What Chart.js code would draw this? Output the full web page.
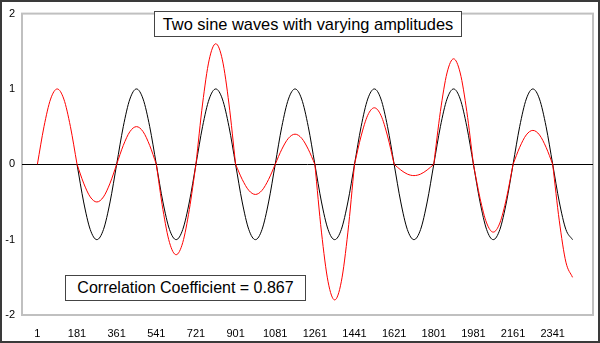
<!DOCTYPE html>
<html>
<head>
<meta charset="utf-8">
<script src="https://cdn.jsdelivr.net/npm/chart.js@4/dist/chart.umd.min.js"></script>
<style>
  html, body { margin: 0; padding: 0; background: #fff; }
  #wrap { position: relative; width: 600px; height: 343px; overflow: hidden; }
  #frame { position: absolute; left: 0; top: 0; width: 600px; height: 343px; box-sizing: border-box; border: 2px solid #3a3a3a; pointer-events: none; }
  .box { position: absolute; box-sizing: border-box; border: 1px solid #444; background: #fff; color: #000;
         font-family: "Liberation Sans", Arial, sans-serif; text-align: center; white-space: nowrap; }
  #title { left: 154px; top: 11px; width: 308px; height: 26px; font-size: 16.4px; line-height: 24px; }
  #corr { left: 65px; top: 275px; width: 241px; height: 26px; font-size: 16px; line-height: 24px; }
</style>
</head>
<body>
<div id="wrap">
  <canvas id="c" width="600" height="343"></canvas>
  <div class="box" id="title">Two sine waves with varying amplitudes</div>
  <div class="box" id="corr">Correlation Coefficient = 0.867</div>
  <div id="frame"></div>
</div>
<script>
// one sample every 30 categories
const STEP = 30;
const HALF = 180;
const RED_START = 1;
const BLACK_START = 181;

// constant amplitude wave (hidden under the red one for the first half cycle)
const blackWave = [
  0, -0.5, -0.866, -1, -0.866, -0.5,
  0, 0.5, 0.866, 1, 0.866, 0.5, 0, -0.5, -0.866, -1, -0.866, -0.5,
  0, 0.5, 0.866, 1, 0.866, 0.5, 0, -0.5, -0.866, -1, -0.866, -0.5,
  0, 0.5, 0.866, 1, 0.866, 0.5, 0, -0.5, -0.866, -1, -0.866, -0.5,
  0, 0.5, 0.866, 1, 0.866, 0.5, 0, -0.5, -0.866, -1, -0.866, -0.5,
  0, 0.5, 0.866, 1, 0.866, 0.5, 0, -0.5, -0.866, -1, -0.866, -0.5,
  0, 0.5, 0.866, 1, 0.866, 0.5, 0, -0.5, -0.866, -1
];

// varying amplitude wave, one row per half cycle
const redHalves = [
  [0, 0.5, 0.866, 1, 0.866, 0.5, 0],
  [0, -0.25, -0.433, -0.5, -0.433, -0.25, 0],
  [0, 0.25, 0.433, 0.5, 0.433, 0.25, 0],
  [0, -0.6, -1.039, -1.2, -1.039, -0.6, 0],
  [0, 0.8, 1.386, 1.6, 1.386, 0.8, 0],
  [0, -0.2, -0.346, -0.4, -0.346, -0.2, 0],
  [0, 0.2, 0.346, 0.4, 0.346, 0.2, 0],
  [0, -0.9, -1.559, -1.8, -1.559, -0.9, 0],
  [0, 0.375, 0.65, 0.75, 0.65, 0.375, 0],
  [0, -0.075, -0.13, -0.15, -0.13, -0.075, 0],
  [0, 0.7, 1.212, 1.4, 1.212, 0.7, 0],
  [0, -0.45, -0.779, -0.9, -0.779, -0.45, 0],
  [0, 0.225, 0.39, 0.45, 0.39, 0.225, 0],
  [0, -0.75, -1.299, -1.5]
];

const xTickLabels = [1, 181, 361, 541, 721, 901, 1081, 1261, 1441, 1621, 1801, 1981, 2161, 2341];
const yTickValues = [-2, -1, 0, 1, 2];

const blackPoints = blackWave.map((v, i) => ({ x: BLACK_START + i * STEP, y: v }));

// each half cycle is its own curve piece so the spline keeps the kink at zero
const redPoints = [];
redHalves.forEach((half, k) => {
  const x0 = RED_START + k * HALF;
  half.forEach((v, i) => redPoints.push({ x: x0 + i * STEP, y: v }));
  redPoints.push({ x: x0 + HALF, y: null });
});

// plot border and the zero axis line
const plotDecor = {
  id: 'plotDecor',
  beforeDatasetsDraw(chart) {
    const { ctx, chartArea: a, scales } = chart;
    ctx.save();
    ctx.strokeStyle = '#c0c0c0';
    ctx.lineWidth = 2;
    ctx.strokeRect(a.left, a.top, a.right - a.left, a.bottom - a.top);
    const y0 = Math.round(scales.y.getPixelForValue(0)) + 0.5;
    ctx.strokeStyle = '#000';
    ctx.lineWidth = 1;
    ctx.beginPath();
    ctx.moveTo(a.left, y0);
    ctx.lineTo(a.right, y0);
    ctx.stroke();
    ctx.restore();
  }
};

const font = { family: '"Liberation Sans", Arial, sans-serif', size: 11 };

new Chart(document.getElementById('c'), {
  type: 'line',
  data: {
    datasets: [
      {
        data: redPoints,
        borderColor: '#ff0000',
        borderWidth: 1,
        pointRadius: 0,
        spanGaps: false,
        cubicInterpolationMode: 'monotone',
        order: 0
      },
      {
        data: blackPoints,
        borderColor: '#000000',
        borderWidth: 1,
        pointRadius: 0,
        cubicInterpolationMode: 'monotone',
        order: 1
      }
    ]
  },
  options: {
    responsive: false,
    animation: false,
    layout: { padding: { top: 12, right: 7, left: 0, bottom: 0 } },
    plugins: { legend: { display: false }, tooltip: { enabled: false }, title: { display: false } },
    scales: {
      x: {
        type: 'linear',
        min: -68.9,
        max: 2524,
        grid: { display: false, drawTicks: false },
        border: { display: false },
        afterBuildTicks: axis => { axis.ticks = xTickLabels.map(v => ({ value: v })); },
        afterFit: axis => { axis.height = 28; },
        ticks: { color: '#000', font, padding: 12, maxRotation: 0, autoSkip: false, callback: v => String(v) }
      },
      y: {
        min: -2,
        max: 2,
        grid: { display: false, drawTicks: false },
        border: { display: false },
        afterBuildTicks: axis => { axis.ticks = yTickValues.map(v => ({ value: v })); },
        afterFit: axis => { axis.width = 22; },
        ticks: { color: '#000', font, padding: 7 }
      }
    }
  },
  plugins: [plotDecor]
});
</script>
</body>
</html>
